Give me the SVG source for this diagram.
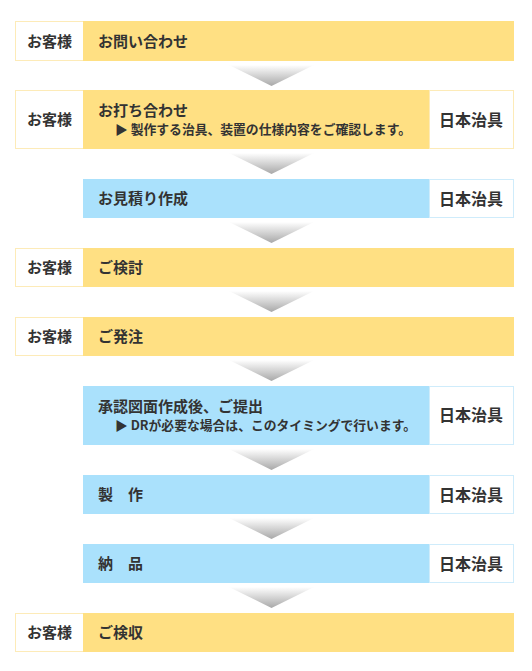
<svg xmlns="http://www.w3.org/2000/svg" width="532" height="671" viewBox="0 0 532 671">
<style>
.t{font-family:"Noto Sans CJK JP","Noto Sans",sans-serif;font-weight:bold;fill:#333}
.m{font-size:15px}
.s{font-size:12.8px}
.r{font-size:16px}
.lb{fill:#fff;stroke:#fdebb8;stroke-width:1}
.rb{fill:#fff;stroke:#fdebb8;stroke-width:1}
.rbb{fill:#fff;stroke:#cfecfb;stroke-width:1}
.y{fill:#ffe083}
.b{fill:#aae1fc}
.arr{fill:url(#g)}
</style>
<defs>
<linearGradient id="g" x1="0" y1="0" x2="0" y2="1">
<stop offset="0" stop-color="#ffffff"/>
<stop offset="1" stop-color="#a8a8a8"/>
</linearGradient>
</defs>
<g id="connectors">
<polygon class="arr" points="229,65 314,65 271.5,86"/>
<polygon class="arr" points="229,153 314,153 271.5,174"/>
<polygon class="arr" points="229,222 314,222 271.5,243"/>
<polygon class="arr" points="229,291 314,291 271.5,312"/>
<polygon class="arr" points="229,360 314,360 271.5,381"/>
<polygon class="arr" points="229,449 314,449 271.5,470"/>
<polygon class="arr" points="229,518 314,518 271.5,539"/>
<polygon class="arr" points="229,587 314,587 271.5,608"/>
</g>
<g id="n1">
<rect class="lb" x="15.5" y="21.5" width="68" height="39"/>
<text class="t m" x="27" y="46.5">お客様</text>
<rect class="y" x="83" y="21" width="431" height="40"/>
<text class="t m" x="98" y="46.5">お問い合わせ</text>
</g>
<g id="n2">
<rect class="lb" x="15.5" y="90.5" width="68" height="58"/>
<text class="t m" x="27" y="125">お客様</text>
<rect class="y" x="83" y="90" width="346" height="59"/>
<text class="t m" x="98" y="115.5">お打ち合わせ</text>
<text class="t s" x="115" y="134">▶ 製作する治具、装置の仕様内容をご確認します。</text>
<rect class="rb" x="429.5" y="90.5" width="84" height="58"/>
<text class="t r" x="439" y="125.5">日本治具</text>
</g>
<g id="n3">
<rect class="b" x="83" y="179" width="346" height="39"/>
<text class="t m" x="98" y="204">お見積り作成</text>
<rect class="rbb" x="429.5" y="179.5" width="84" height="38"/>
<text class="t r" x="439" y="204.5">日本治具</text>
</g>
<g id="n4">
<rect class="lb" x="15.5" y="248.5" width="68" height="38"/>
<text class="t m" x="27" y="273">お客様</text>
<rect class="y" x="83" y="248" width="431" height="39"/>
<text class="t m" x="98" y="273">ご検討</text>
</g>
<g id="n5">
<rect class="lb" x="15.5" y="317.5" width="68" height="38"/>
<text class="t m" x="27" y="342">お客様</text>
<rect class="y" x="83" y="317" width="431" height="39"/>
<text class="t m" x="98" y="342">ご発注</text>
</g>
<g id="n6">
<rect class="b" x="83" y="386" width="346" height="59"/>
<text class="t m" x="98" y="412">承認図面作成後、ご提出</text>
<text class="t s" x="115" y="430">▶ DRが必要な場合は、このタイミングで行います。</text>
<rect class="rbb" x="429.5" y="386.5" width="84" height="58"/>
<text class="t r" x="439" y="421">日本治具</text>
</g>
<g id="n7">
<rect class="b" x="83" y="475" width="346" height="39"/>
<text class="t m" x="98" y="500">製　作</text>
<rect class="rbb" x="429.5" y="475.5" width="84" height="38"/>
<text class="t r" x="439" y="500.5">日本治具</text>
</g>
<g id="n8">
<rect class="b" x="83" y="544" width="346" height="39"/>
<text class="t m" x="98" y="569">納　品</text>
<rect class="rbb" x="429.5" y="544.5" width="84" height="38"/>
<text class="t r" x="439" y="569.5">日本治具</text>
</g>
<g id="n9">
<rect class="lb" x="15.5" y="613.5" width="68" height="38"/>
<text class="t m" x="27" y="638">お客様</text>
<rect class="y" x="83" y="613" width="431" height="39"/>
<text class="t m" x="98" y="638">ご検収</text>
</g>
</svg>
